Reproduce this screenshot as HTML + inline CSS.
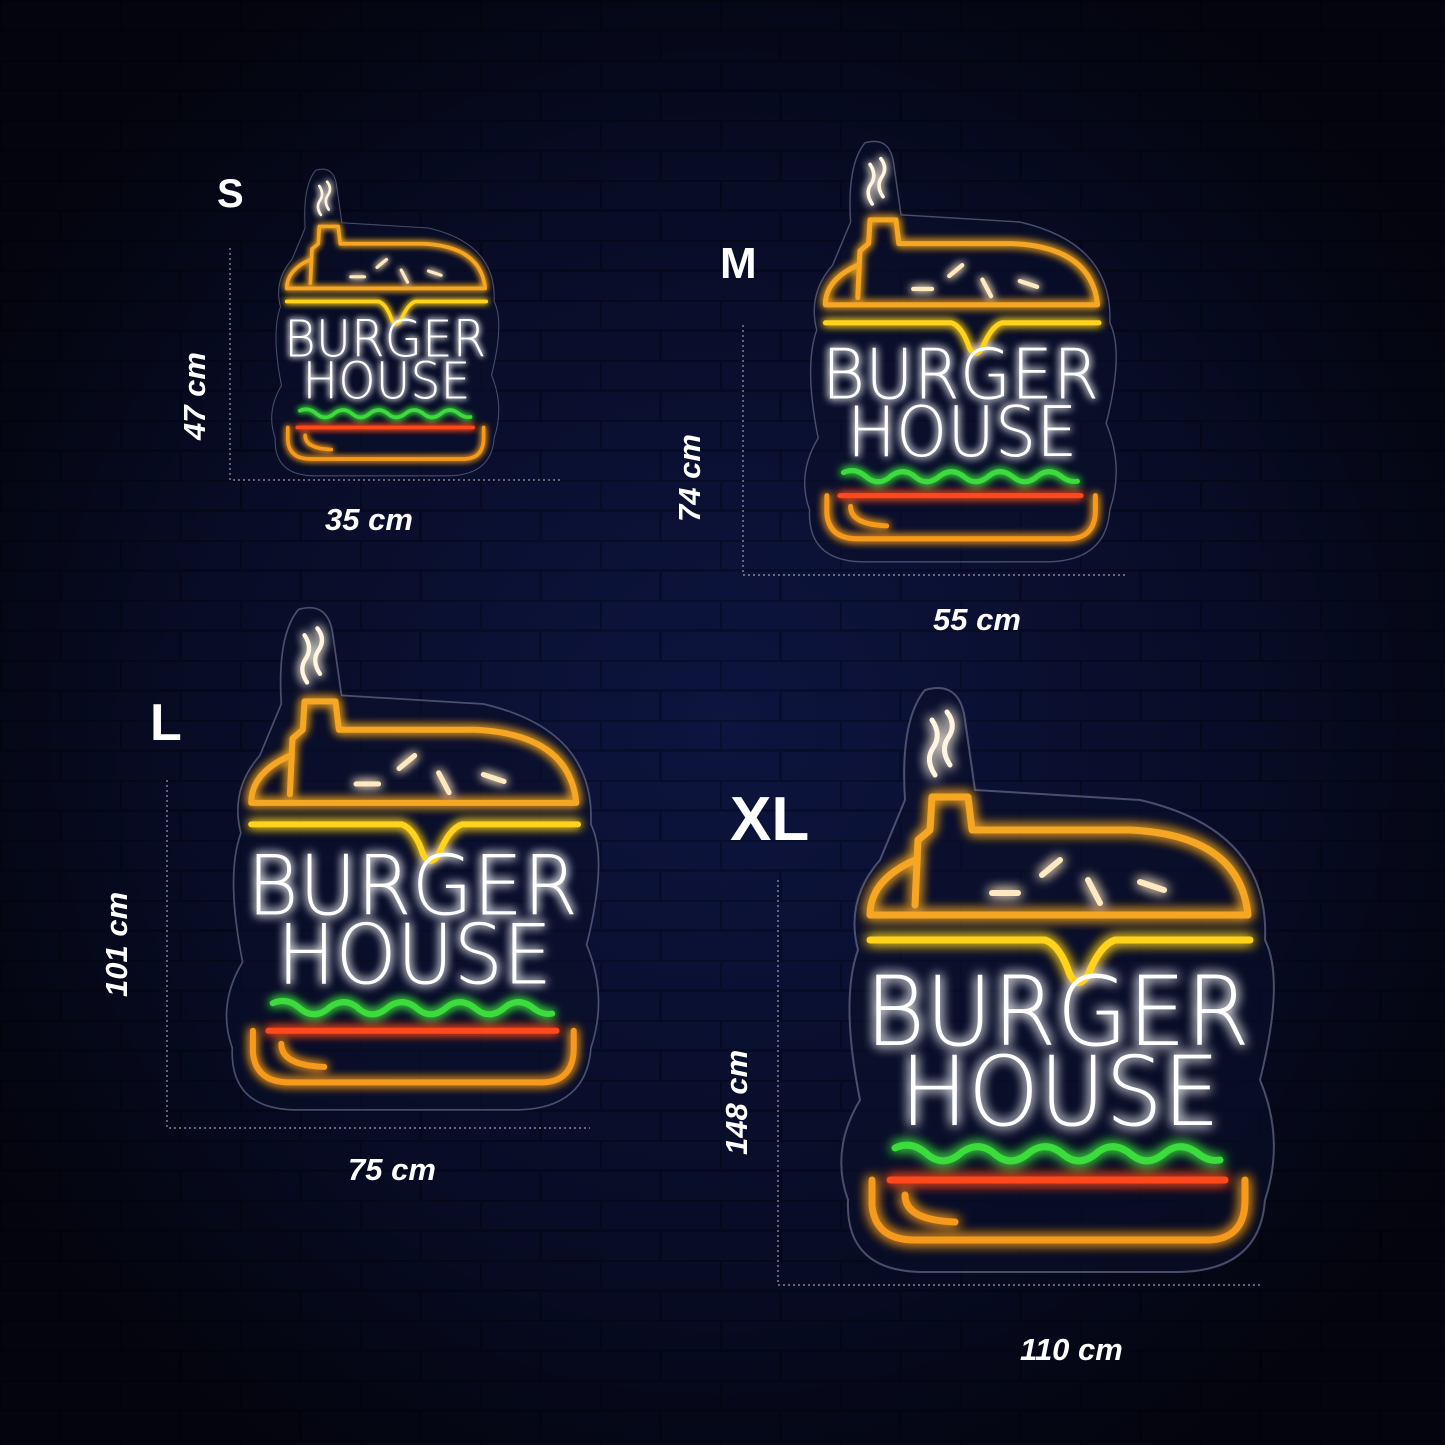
<!DOCTYPE html>
<html><head><meta charset="utf-8"><style>
html,body{margin:0;padding:0;background:#050714;}
svg{display:block}
</style></head><body>
<svg width="1445" height="1445" viewBox="0 0 1445 1445" xmlns="http://www.w3.org/2000/svg">
<defs>
<radialGradient id="bg" cx="0.5" cy="0.5" r="0.6">
<stop offset="0" stop-color="#0d1540"/><stop offset="0.6" stop-color="#080c26"/><stop offset="1" stop-color="#03040c"/>
</radialGradient>
<pattern id="brick" width="120" height="60" patternUnits="userSpaceOnUse">
<path d="M0 0.5H120M0 30.5H120M0.5 0V30M60.5 30V60" stroke="#000" stroke-opacity="0.3" stroke-width="3"/>
</pattern>
<filter id="glow" x="-20%" y="-20%" width="140%" height="140%">
<feGaussianBlur stdDeviation="6" result="b"/>
<feMerge><feMergeNode in="b"/><feMergeNode in="b"/><feMergeNode in="SourceGraphic"/></feMerge>
</filter>
</defs>
<rect width="1445" height="1445" fill="url(#bg)"/>
<rect width="1445" height="1445" fill="url(#brick)"/>

<g id="XL">
 <path d="M925 690 Q960 680 965 720 L975 790 L1140 800 Q1270 830 1265 940 Q1285 980 1260 1080 Q1285 1140 1265 1200 Q1260 1270 1180 1272 L920 1272 Q845 1270 848 1200 Q830 1150 860 1100 Q840 1000 858 950 Q845 900 880 860 L905 800 Q900 720 925 690 Z" fill="#0a0f2a" fill-opacity="0.6" stroke="#8a8fb0" stroke-opacity="0.5" stroke-width="2"/>
 <g filter="url(#glow)" fill="none" stroke-linecap="round" stroke-linejoin="round" stroke-width="7">
  <path d="M935 775 Q925 760 933 748 Q942 735 932 720 M950 765 Q940 750 948 738 Q957 725 947 712" stroke="#fff5e0" stroke-width="5"/>
  <path d="M915 905 L918 840 L930 830 L932 797 L968 797 L972 830 L1130 830 Q1240 835 1248 915 L870 915 Q870 880 915 860" stroke="#f5a623"/>
  <path d="M992 893 L1018 893 M1042 875 L1060 860 M1088 880 L1100 903 M1140 882 L1164 890" stroke="#ffe9c0" stroke-width="6"/>
  <path d="M870 940 L1045 940 Q1060 945 1070 975 Q1078 990 1088 975 Q1100 945 1115 940 L1250 940" stroke="#ffd21a"/>
  <text x="865" y="1045" font-family="DejaVu Sans ExtraLight, DejaVu Sans, Liberation Sans, sans-serif" font-weight="200" font-size="96" fill="#ffffff" stroke="none" textLength="385" lengthAdjust="spacingAndGlyphs">BURGER</text>
  <text x="900" y="1125" font-family="DejaVu Sans ExtraLight, DejaVu Sans, Liberation Sans, sans-serif" font-weight="200" font-size="96" fill="#ffffff" stroke="none" textLength="320" lengthAdjust="spacingAndGlyphs">HOUSE</text>
  <path d="M895 1148 Q912 1140 928 1155 Q945 1168 962 1152 Q980 1140 996 1155 Q1012 1168 1030 1152 Q1047 1140 1064 1155 Q1080 1168 1098 1152 Q1114 1140 1132 1155 Q1148 1168 1166 1152 Q1182 1140 1200 1155 Q1210 1162 1220 1160" stroke="#3ddc3d"/>
  <path d="M890 1180 L1225 1180" stroke="#ff4a1a"/>
  <path d="M872 1180 L872 1205 Q875 1240 915 1240 L1210 1240 Q1245 1238 1245 1200 L1245 1180" stroke="#f59a1a"/>
  <path d="M905 1195 Q905 1220 955 1222" stroke="#f59a1a"/>
 </g>
</g>
<use href="#XL" transform="translate(-497,16) scale(0.86)"/>
<use href="#XL" transform="translate(199,-354) scale(0.72)"/>
<use href="#XL" transform="translate(-170,-192) scale(0.525)"/>

<g stroke="#9aa0b8" stroke-width="1.2" stroke-dasharray="2,3" fill="none">
 <path d="M230 248 V480 H560"/>
 <path d="M743 325 V575 H1125"/>
 <path d="M167 780 V1128 H590"/>
 <path d="M778 880 V1285 H1262"/>
</g>
<g font-family="Liberation Sans, sans-serif" font-weight="bold" fill="#fff">
 <text x="217" y="207" font-size="40">S</text>
 <text x="720" y="278" font-size="44">M</text>
 <text x="150" y="740" font-size="52">L</text>
 <text x="730" y="840" font-size="62">XL</text>
</g>
<g font-family="Liberation Sans, sans-serif" font-weight="bold" font-style="italic" fill="#fff" font-size="31">
 <text x="325" y="530">35 cm</text>
 <text x="933" y="630">55 cm</text>
 <text x="348" y="1180">75 cm</text>
 <text x="1020" y="1360">110 cm</text>
 <text transform="translate(205,440) rotate(-90)">47 cm</text>
 <text transform="translate(700,522) rotate(-90)">74 cm</text>
 <text transform="translate(127,997) rotate(-90)">101 cm</text>
 <text transform="translate(747,1155) rotate(-90)">148 cm</text>
</g>
</svg>
</body></html>
